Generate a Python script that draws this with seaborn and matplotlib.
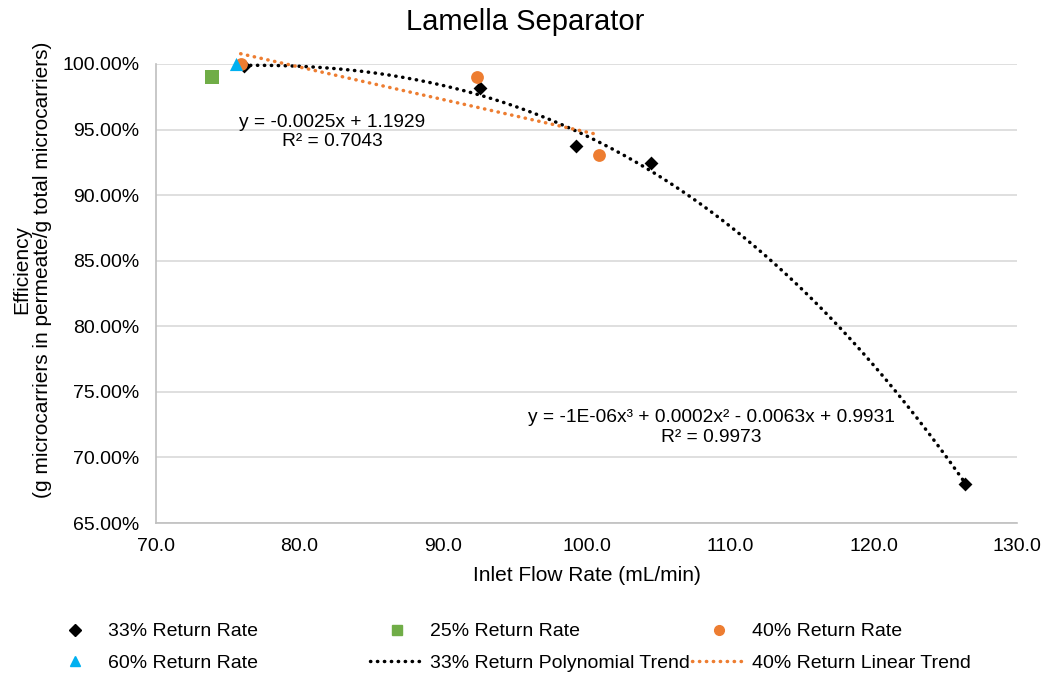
import numpy as np
import matplotlib
matplotlib.use("Agg")
import matplotlib.pyplot as plt
import seaborn as sns
from matplotlib.lines import Line2D
from matplotlib.ticker import PercentFormatter, FormatStrFormatter

# data
rate33_x = [76.1, 92.6, 99.3, 104.5, 126.4]
rate33_y = [0.9985, 0.9817, 0.9376, 0.9247, 0.680]
rate25_x = [73.9]
rate25_y = [0.990]
rate40_x = [75.9, 92.4, 100.9]
rate40_y = [1.000, 0.990, 0.9307]
rate60_x = [75.6]
rate60_y = [1.000]

BLACK = "black"
GREEN = "#70ad47"
ORANGE = "#ed7d31"
BLUE = "#00b0f0"
DOTS = (0, (0.1, 1.9))

sns.set_style("white")
plt.rcParams['font.family'] = ['Liberation Sans', 'DejaVu Sans']
plt.rcParams['text.color'] = "black"
plt.rcParams['axes.labelcolor'] = "black"

fig = plt.figure(figsize=(10.5, 6.77), dpi=100)
ax = fig.add_axes([156 / 1050, 1 - 523 / 677, (1017 - 156) / 1050, (523 - 64) / 677])

# trend lines (fitted from the points, like Excel does)
poly = np.polyfit(rate33_x, rate33_y, 3)
px = np.linspace(min(rate33_x), max(rate33_x), 200)
ax.plot(px, np.polyval(poly, px), color=BLACK, ls=DOTS, lw=2.5, dash_capstyle="round",
        clip_on=False, zorder=3)
lin = np.polyfit(rate40_x, rate40_y, 1)
lx = np.linspace(min(rate40_x), max(rate40_x), 50)
ax.plot(lx, np.polyval(lin, lx), color=ORANGE, ls=DOTS, lw=2.5, dash_capstyle="round",
        clip_on=False, zorder=3)

kw = dict(ax=ax, legend=False, clip_on=False, zorder=4, linewidth=0)
sns.scatterplot(x=rate33_x, y=rate33_y, marker="D", s=50, color=BLACK, **kw)
sns.scatterplot(x=rate25_x, y=rate25_y, marker="s", s=95, color=GREEN, **kw)
sns.scatterplot(x=rate40_x, y=rate40_y, marker="o", s=85, color=ORANGE, **kw)
sns.scatterplot(x=rate60_x, y=rate60_y, marker="^", s=90, color=BLUE, **kw)

ax.set_xlim(70, 130)
ax.set_ylim(0.65, 1.0)
ax.set_xticks(np.arange(70, 131, 10))
ax.set_yticks(np.arange(0.65, 1.001, 0.05))
ax.xaxis.set_major_formatter(FormatStrFormatter("%.1f"))
ax.yaxis.set_major_formatter(PercentFormatter(1.0, decimals=2))
ax.grid(axis="y", color="#d9d9d9", lw=1.2)
ax.grid(axis="x", visible=False)
for s in ["top", "right"]:
    ax.spines[s].set_visible(False)
for s in ["left", "bottom"]:
    ax.spines[s].set_color("#bfbfbf")
    ax.spines[s].set_linewidth(1.2)
ax.tick_params(axis="both", labelsize=14, colors="black", length=0)
ax.tick_params(axis="y", pad=12)
ax.tick_params(axis="x", pad=11)
ax.set_axisbelow(True)

ax.set_xlabel("Inlet Flow Rate (mL/min)", fontsize=15, labelpad=8)
fig.text(32 / 1050, 1 - 270 / 677,
         "Efficiency\n(g microcarriers in permeate/g total microcarriers)",
         rotation=90, ha="center", va="center", fontsize=15, linespacing=1.1)
fig.text(0.5, 1 - 22 / 677, "Lamella Separator", ha="center", va="center", fontsize=21)

ax.text(82.3, 0.9481, "y = -0.0025x + 1.1929\nR² = 0.7043", ha="center", va="center",
        fontsize=13.8, linespacing=1.2)
ax.text(108.7, 0.7228, "y = -1E-06x³ + 0.0002x² - 0.0063x + 0.9931\nR² = 0.9973",
        ha="center", va="center", fontsize=13.8, linespacing=1.2)

# legend, three equal-width columns like Excel
h33 = Line2D([], [], marker="D", color=BLACK, ls="", markersize=6)
h25 = Line2D([], [], marker="s", color=GREEN, ls="", markersize=7)
h40 = Line2D([], [], marker="o", color=ORANGE, ls="", markersize=7)
h60 = Line2D([], [], marker="^", color=BLUE, ls="", markersize=7)
hp = Line2D([], [], color=BLACK, ls=DOTS, lw=2.5, dash_capstyle="round")
hl = Line2D([], [], color=ORANGE, ls=DOTS, lw=2.5, dash_capstyle="round")
columns = [
    (48, [h33, h60], ["33% Return Rate", "60% Return Rate"]),
    (370, [h25, hp], ["25% Return Rate", "33% Return Polynomial Trend"]),
    (692, [h40, hl], ["40% Return Rate", "40% Return Linear Trend"]),
]
for x0, handles, labels in columns:
    fig.legend(handles, labels, loc="center left", bbox_to_anchor=(x0 / 1050, 1 - 647.5 / 677),
               frameon=False, fontsize=14, handlelength=2.75, handletextpad=0.35,
               labelspacing=0.72, borderpad=0, borderaxespad=0)

fig.savefig("out.png", dpi=100)
